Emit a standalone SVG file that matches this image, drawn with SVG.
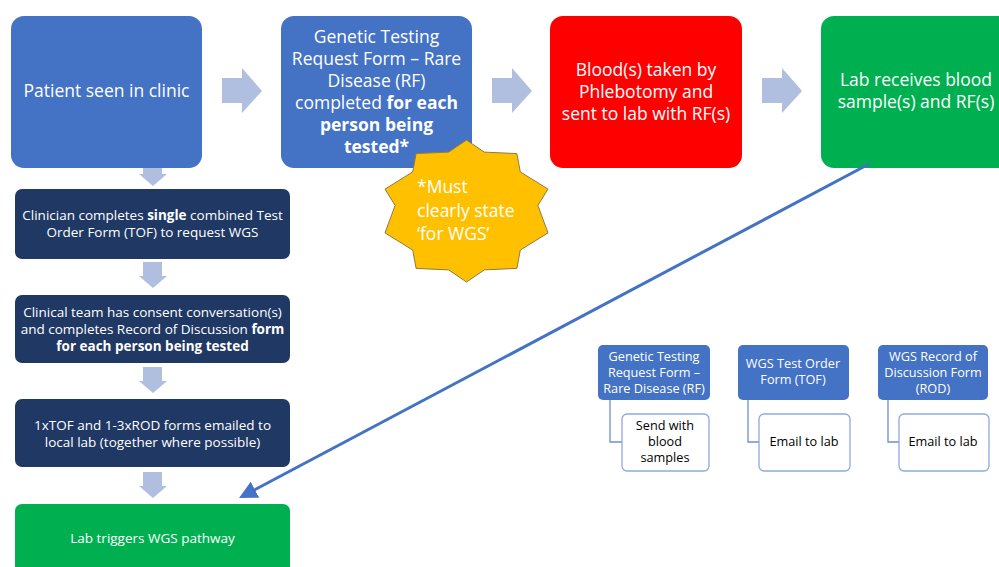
<svg xmlns="http://www.w3.org/2000/svg" width="999" height="567" viewBox="0 0 999 567">
<defs>
<style>
text{font-family:"Open Sans","Noto Sans","Liberation Sans",sans-serif;fill:#fff;text-anchor:middle}
.big{font-size:17.5px}
.sm{font-size:13.5px}
.lg{font-size:12.7px}
.dk{fill:#000}
.b{font-weight:bold}
.blk{fill:#B0BEE0}
.leg{fill:#4472C4}
.child{fill:#fff;stroke:#8FAADC;stroke-width:1.3}
.conn{fill:none;stroke:#6F8FCF;stroke-width:1.3}
</style>
<marker id="ah" markerWidth="6" markerHeight="6" refX="4.5" refY="3" orient="auto" markerUnits="strokeWidth">
<path d="M0,0 L6,3 L0,6 Z" fill="#4472C4"/>
</marker>
</defs>
<rect width="999" height="567" fill="#fff"/>

<g id="arrows-block">
<path class="blk" d="M222,78 H242 V68 L262,91 L242,113 V103 H222 Z"/>
<path class="blk" d="M492,78 H512 V68 L532,91 L512,113 V103 H492 Z"/>
<path class="blk" d="M762,78 H782 V68 L802,91 L782,113 V103 H762 Z"/>
<path class="blk" d="M143,160 H162 V174 H167 L153,186 L139,174 H143 Z"/>
<path class="blk" d="M143,262 H162 V276 H167 L153,288 L139,276 H143 Z"/>
<path class="blk" d="M143,367 H162 V381 H167 L153,393 L139,381 H143 Z"/>
<path class="blk" d="M143,472 H162 V486 H167 L153,498 L139,486 H143 Z"/>
</g>

<g id="n-patient">
<rect x="11" y="16" width="191" height="152" rx="13" fill="#4472C4"/>
<text class="big" x="106.5" y="97">Patient seen in clinic</text>
</g>

<g id="n-rf">
<rect x="281" y="16" width="191" height="152" rx="13" fill="#4472C4"/>
<text class="big" x="376.5" y="43">Genetic Testing</text>
<text class="big" x="376.5" y="65">Request Form – Rare</text>
<text class="big" x="376.5" y="87">Disease (RF)</text>
<text class="big" x="376.5" y="109">completed <tspan class="b">for each</tspan></text>
<text class="big b" x="376.5" y="131">person being</text>
<text class="big b" x="376.5" y="153">tested*</text>
</g>

<g id="n-blood">
<rect x="550" y="16" width="192" height="152" rx="13" fill="#FF0000"/>
<text class="big" x="646" y="76">Blood(s) taken by</text>
<text class="big" x="646" y="98">Phlebotomy and</text>
<text class="big" x="646" y="120">sent to lab with RF(s)</text>
</g>

<g id="n-labreceives">
<rect x="821" y="16" width="192" height="152" rx="13" fill="#00B050"/>
<text class="big" x="916" y="86">Lab receives blood</text>
<text class="big" x="916" y="108">sample(s) and RF(s)</text>
</g>

<g id="n-star">
<polygon id="starpoly" fill="#FFC000" stroke="#8C7B4A" stroke-width="1" points="466.5,140 484.3,152.1 516.9,153.6 520.3,171.9 548,189.1 537.9,205.4 548,232.9 520.3,250.1 516.9,268.4 484.3,269.9 466.5,282 448.7,269.9 416.1,268.4 412.7,250.1 385,232.9 395.1,205.4 385,189.1 412.7,171.9 416.1,153.6 448.7,152.1"/>
<text class="big" x="417" y="193" style="text-anchor:start">*Must</text>
<text class="big" x="417" y="217" style="text-anchor:start">clearly state</text>
<text class="big" x="417" y="240" style="text-anchor:start">‘for WGS’</text>
</g>

<g id="n-clinician">
<rect x="15" y="189" width="275" height="70" rx="7" fill="#203864"/>
<text class="sm" x="152.5" y="220">Clinician completes <tspan class="b">single</tspan> combined Test</text>
<text class="sm" x="152.5" y="237">Order Form (TOF) to request WGS</text>
</g>

<g id="n-consent">
<rect x="15" y="295" width="275" height="68" rx="7" fill="#203864"/>
<text class="sm" x="152.5" y="317">Clinical team has consent conversation(s)</text>
<text class="sm" x="152.5" y="334">and completes Record of Discussion <tspan class="b">form</tspan></text>
<text class="sm b" x="152.5" y="351">for each person being tested</text>
</g>

<g id="n-emailed">
<rect x="15" y="399" width="275" height="68" rx="7" fill="#203864"/>
<text class="sm" x="152.5" y="430">1xTOF and 1-3xROD forms emailed to</text>
<text class="sm" x="152.5" y="447">local lab (together where possible)</text>
</g>

<g id="n-triggers">
<rect x="15" y="504" width="275" height="80" rx="7" fill="#00B050"/>
<text class="sm" x="152.5" y="543">Lab triggers WGS pathway</text>
</g>

<g id="connectors">
<line x1="869" y1="164" x2="243" y2="496" stroke="#4472C4" stroke-width="3" marker-end="url(#ah)"/>
<path class="conn" d="M610,400 V442 H622"/>
<path class="conn" d="M748,400 V442 H759"/>
<path class="conn" d="M888,400 V442 H899"/>
</g>

<g id="leg-rf">
<rect class="leg" x="598" y="345" width="112" height="55" rx="5"/>
<text class="lg" x="654" y="361">Genetic Testing</text>
<text class="lg" x="654" y="377">Request Form –</text>
<text class="lg" x="654" y="393">Rare Disease (RF)</text>
</g>
<g id="leg-rf-child">
<rect class="child" x="622" y="414" width="87" height="57" rx="5"/>
<text class="lg dk" x="665" y="430">Send with</text>
<text class="lg dk" x="665" y="446">blood</text>
<text class="lg dk" x="665" y="462">samples</text>
</g>
<g id="leg-tof">
<rect class="leg" x="738" y="345" width="111" height="55" rx="5"/>
<text class="lg" x="793" y="368">WGS Test Order</text>
<text class="lg" x="793" y="384">Form (TOF)</text>
</g>
<g id="leg-tof-child">
<rect class="child" x="759" y="414" width="91" height="57" rx="5"/>
<text class="lg dk" x="804" y="446">Email to lab</text>
</g>
<g id="leg-rod">
<rect class="leg" x="878" y="345" width="110" height="55" rx="5"/>
<text class="lg" x="933" y="361">WGS Record of</text>
<text class="lg" x="933" y="377">Discussion Form</text>
<text class="lg" x="933" y="393">(ROD)</text>
</g>
<g id="leg-rod-child">
<rect class="child" x="899" y="414" width="90" height="57" rx="5"/>
<text class="lg dk" x="943" y="446">Email to lab</text>
</g>
</svg>
